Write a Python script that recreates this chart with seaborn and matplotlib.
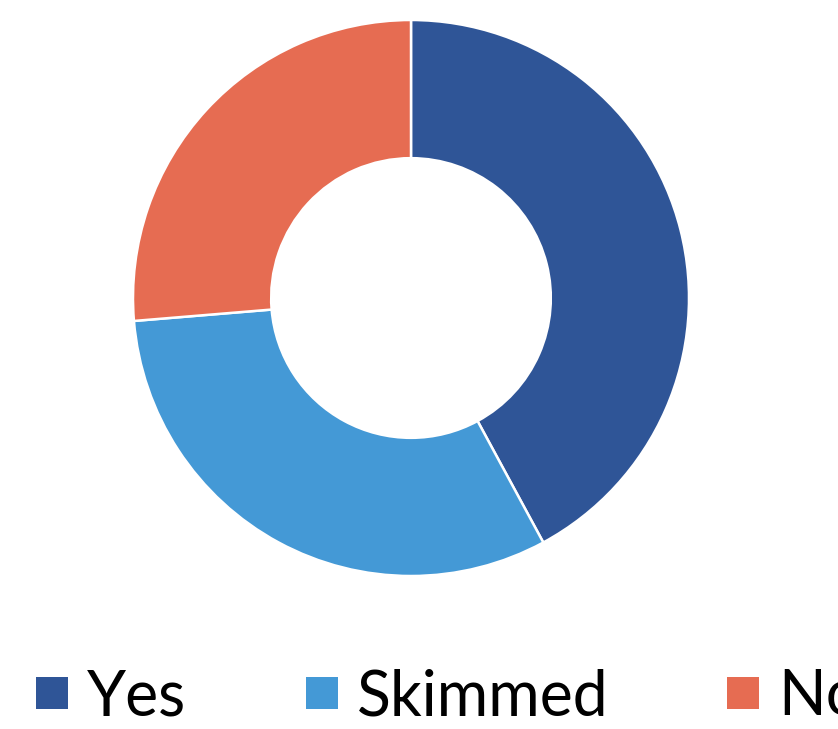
import matplotlib
matplotlib.use("Agg")
import matplotlib.pyplot as plt
from matplotlib.lines import Line2D
import seaborn as sns

categories = ["Yes", "Skimmed", "No"]
values = [8, 6, 5]
colors = ["#2F5597", "#4499D6", "#E66C52"]

sns.set_theme(style="white")
plt.rcParams["font.family"] = ["Lato", "DejaVu Sans"]

W, H = 838, 729
fig = plt.figure(figsize=(W / 100, H / 100), dpi=100)
cx, cy, r = 411, 298, 278
ax = fig.add_axes([(cx - r) / W, (H - cy - r) / H, 2 * r / W, 2 * r / H])
ax.pie(values, colors=colors, startangle=90, counterclock=False, radius=1,
       wedgeprops=dict(width=0.497, edgecolor="white", linewidth=1.8))
ax.set_xlim(-1, 1)
ax.set_ylim(-1, 1)
ax.set_aspect("equal")
ax.axis("off")

handles = [Line2D([], [], marker="s", linestyle="none", markersize=22.5,
                  markerfacecolor=c, markeredgewidth=0) for c in colors]
fig.legend(handles, categories, ncol=3, loc="center left",
           bbox_to_anchor=(36 / W, 1 - 697 / H), frameon=False,
           fontsize=45, handlelength=0.52, handletextpad=0.3,
           columnspacing=1.9, borderpad=0, borderaxespad=0,
           labelcolor="black")

fig.savefig("out.png", dpi=100, facecolor="white")
